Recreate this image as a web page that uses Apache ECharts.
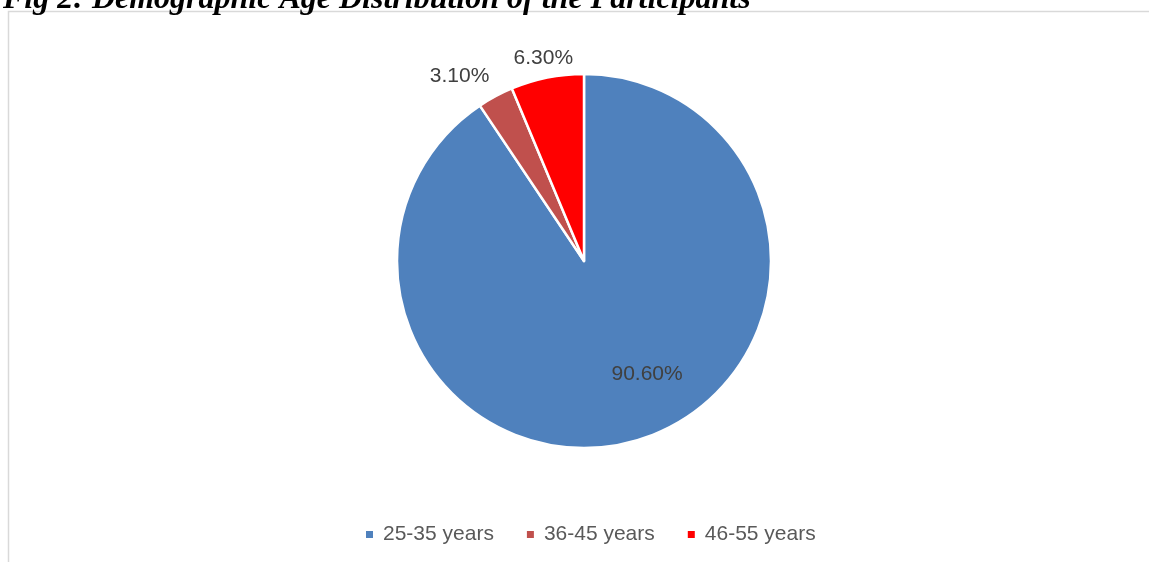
<!DOCTYPE html>
<html>
<head>
<meta charset="utf-8">
<script src="https://cdn.jsdelivr.net/npm/echarts@6/dist/echarts.min.js"></script>
<style>
html,body{margin:0;padding:0;background:#fff;}
#chart{width:1149px;height:562px;}
</style>
</head>
<body>
<div id="chart"></div>
<script>
const titleText = 'Fig 2: Demographic Age Distribution of the Participants';
const categories = ['25-35 years', '36-45 years', '46-55 years'];
const values = [90.6, 3.1, 6.3];
const colors = ['#4F81BD', '#C0504D', '#FF0000'];

const chart = echarts.init(document.getElementById('chart'));
const data = categories.map((c, i) => ({
  name: c,
  value: values[i],
  itemStyle: { color: colors[i] },
  label: i === 0 ? { position: 'inside', offset: [35, 21] } : { position: 'outside' }
}));
const labelShift = [[0, 0], [5, -19], [32, -14]];

chart.setOption({
  animation: false,
  graphic: [{
    type: 'rect',
    shape: { x: 8.5, y: 11.5, width: 1160, height: 600 },
    style: { fill: 'none', stroke: '#D9D9D9', lineWidth: 1.5 },
    z: -1
  }],
  title: {
    text: titleText,
    left: -2,
    top: -21,
    textStyle: {
      fontFamily: 'Liberation Serif',
      fontStyle: 'italic',
      fontWeight: 'bold',
      fontSize: 32,
      color: '#000'
    }
  },
  legend: {
    bottom: 17,
    left: 364,
    padding: 0,
    itemWidth: 9,
    itemHeight: 9,
    itemGap: 31,
    icon: 'rect',
    textStyle: { fontFamily: 'Liberation Sans', fontSize: 21, color: '#595959', padding: [0, 0, 0, 4] },
    data: categories
  },
  series: [{
    type: 'pie',
    center: [584, 261],
    radius: [0, 187],
    startAngle: 90,
    clockwise: true,
    data: data,
    itemStyle: { borderColor: '#fff', borderWidth: 2.5 },
    label: {
      show: true,
      formatter: p => p.value.toFixed(2) + '%',
      fontFamily: 'Liberation Sans',
      fontSize: 21,
      color: '#404040'
    },
    labelLine: { show: false, length: 6, length2: 0 },
    labelLayout: p => ({ dx: labelShift[p.dataIndex][0], dy: labelShift[p.dataIndex][1] }),
    emphasis: { disabled: true }
  }]
});
</script>
</body>
</html>
